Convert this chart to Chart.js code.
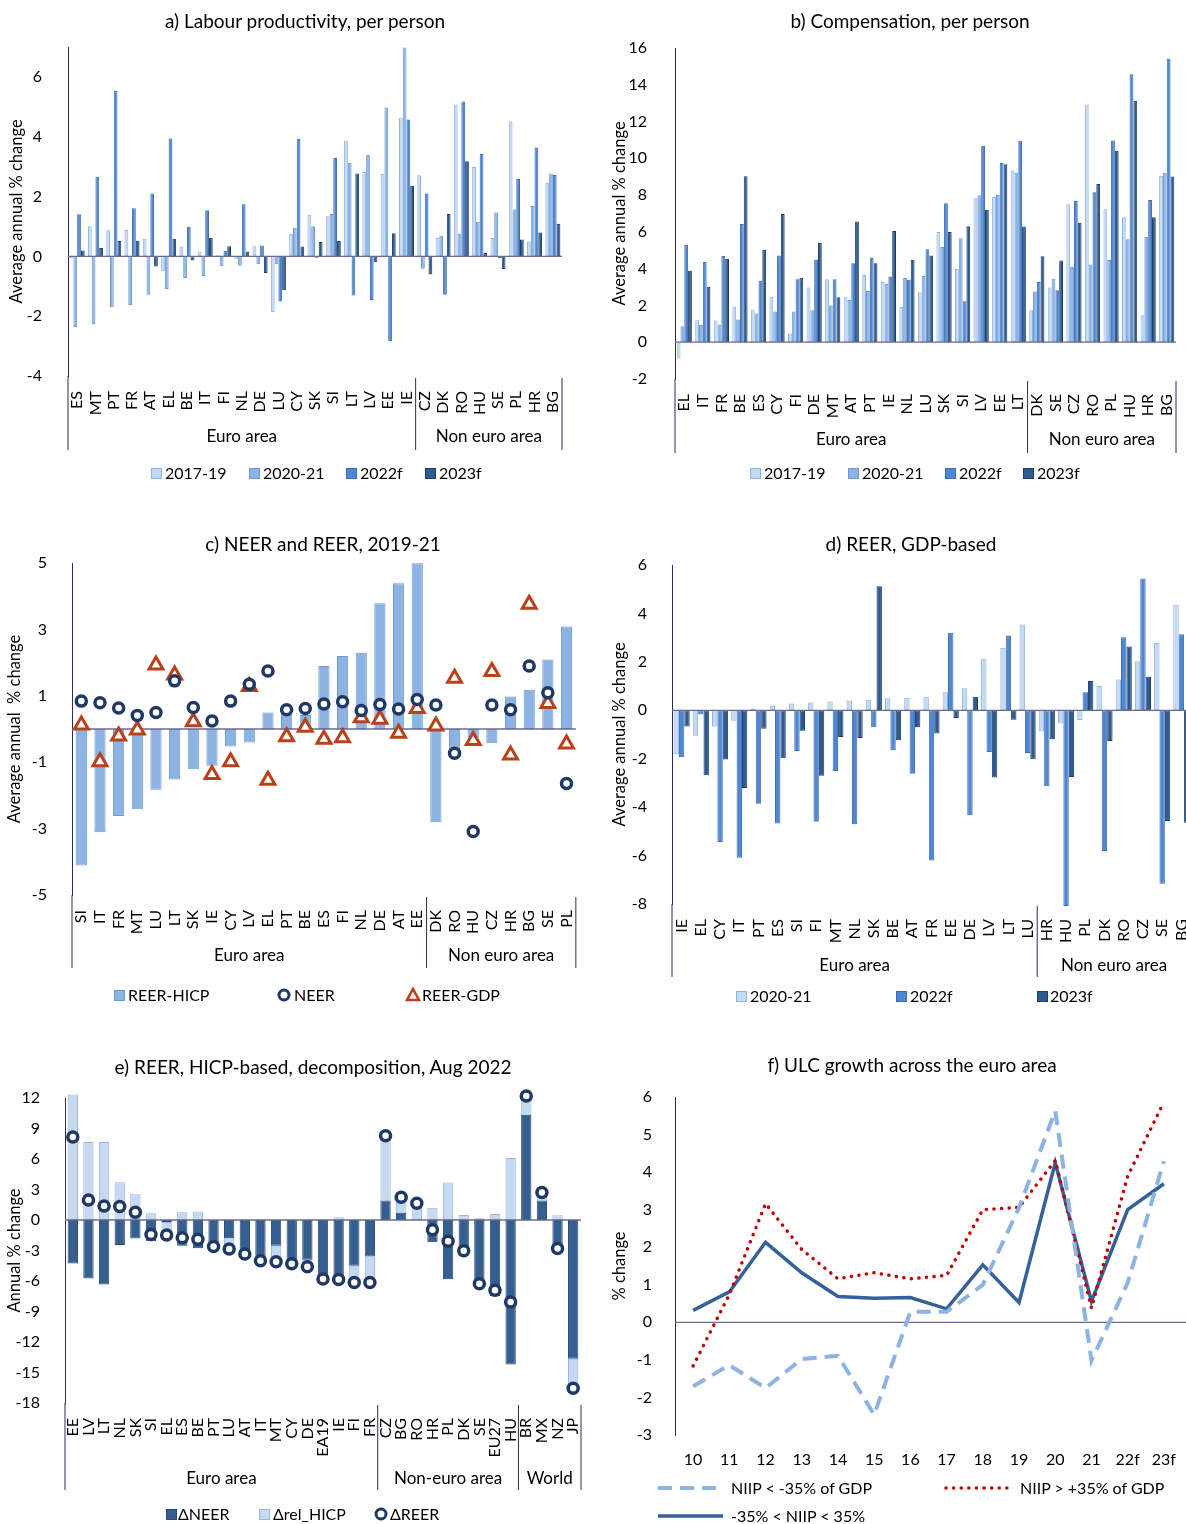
<!DOCTYPE html>
<html>
<head>
<meta charset="utf-8">
<script src="https://cdn.jsdelivr.net/npm/chart.js@4.4.0/dist/chart.umd.min.js"></script>
<style>
html, body { margin: 0; padding: 0; overflow: hidden; background: #fff; }
body { width: 1186px; height: 1524px; position: relative; font-family: Lato, "Open Sans", sans-serif; }
canvas { position: absolute; }
.t { position: absolute; transform: translateX(-50%); font-size: 19px; line-height: 23px; white-space: nowrap; color: #000; z-index: 2; }
.lg { position: absolute; font-size: 16px; white-space: nowrap; color: #000; line-height: 19px; }
.mk { position: absolute; }
</style>
</head>
<body>
<canvas id="ca" width="593" height="500" style="left:0;top:0"></canvas>
<canvas id="cb" width="615" height="500" style="left:593px;top:0"></canvas>
<canvas id="cc" width="593" height="500" style="left:0;top:520px"></canvas>
<canvas id="cd" width="625" height="500" style="left:593px;top:520px"></canvas>
<canvas id="ce" width="615" height="484" style="left:0;top:1040px"></canvas>
<canvas id="cf" width="593" height="484" style="left:593px;top:1040px"></canvas>

<div class="t" style="left:305px;top:9px">a) Labour productivity, per person</div>
<div class="t" style="left:910px;top:9px">b) Compensation, per person</div>
<div class="t" style="left:323px;top:532px">c) NEER and REER, 2019-21</div>
<div class="t" style="left:911px;top:532px">d) REER, GDP-based</div>
<div class="t" style="left:313px;top:1055px">e) REER, HICP-based, decomposition, Aug 2022</div>
<div class="t" style="left:912px;top:1053px">f) ULC growth across the euro area</div>
<div id="leg"></div>

<script>
// a) labour productivity
var prodCats = ['ES','MT','PT','FR','AT','EL','BE','IT','FI','NL','DE','LU','CY','SK','SI','LT','LV','EE','IE','CZ','DK','RO','HU','SE','PL','HR','BG'];
var prod1719 = [-0.07,1.01,0.87,0.88,0.59,-0.5,0.33,0.16,0.04,-0.08,0.34,-1.86,0.76,1.39,1.34,3.87,2.82,2.76,4.62,2.71,0.61,5.08,2.99,0.61,4.51,0.5,2.46];
var prod2021 = [-2.36,-2.26,-1.7,-1.63,-1.28,-1.09,-0.72,-0.66,-0.33,-0.31,-0.26,-0.26,0.96,1.01,1.42,3.13,3.4,4.98,6.98,-0.41,0.69,0.76,1.16,1.47,1.57,1.68,2.77];
var prod2022 = [1.41,2.66,5.54,1.61,2.1,3.94,0.99,1.54,0.19,1.74,0.36,-1.51,3.93,-0.05,3.29,-1.31,-1.46,-2.84,4.58,2.1,-1.28,5.18,3.42,-0.06,2.59,3.64,2.72];
var prod2023 = [0.2,0.28,0.51,0.52,-0.34,0.59,-0.14,0.62,0.34,0.16,-0.56,-1.13,0.33,0.48,0.51,2.77,-0.2,0.77,2.36,-0.61,1.42,3.18,0.11,-0.42,0.56,0.8,1.09];

// b) compensation
var compCats = ['EL','IT','FR','BE','ES','CY','FI','DE','MT','AT','PT','IE','NL','LU','SK','SI','LV','EE','LT','DK','SE','CZ','RO','PL','HU','HR','BG'];
var comp1719 = [-0.89,1.2,1.18,1.93,1.78,2.47,0.47,2.98,3.42,2.45,3.65,3.27,1.91,2.72,5.99,3.98,7.83,7.9,9.34,1.74,2.98,7.5,12.93,7.23,6.79,1.47,9.05];
var comp2021 = [0.87,0.93,0.96,1.24,1.56,1.67,1.67,1.74,2.0,2.29,2.78,3.16,3.49,3.6,5.18,5.65,7.99,8.01,9.23,2.76,3.45,4.09,4.23,4.47,5.6,5.72,9.21];
var comp2022 = [5.3,4.36,4.69,6.43,3.34,4.72,3.43,4.5,3.42,4.29,4.61,3.58,3.4,5.05,7.56,2.23,10.68,9.74,10.95,3.27,2.83,7.68,8.16,10.97,14.57,7.74,15.42];
var comp2023 = [3.89,3.02,4.54,9.03,5.03,6.97,3.51,5.41,2.45,6.56,4.29,6.05,4.49,4.72,5.99,6.3,7.21,9.68,6.29,4.67,4.45,6.5,8.61,10.41,13.13,6.79,9.01];

// c) NEER and REER 2019-21
var neerCats = ['SI','IT','FR','MT','LU','LT','SK','IE','CY','LV','EL','PT','BE','ES','FI','NL','DE','AT','EE','DK','RO','HU','CZ','HR','BG','SE','PL'];
var reerHicp = [-4.11,-3.11,-2.62,-2.42,-1.83,-1.52,-1.21,-1.11,-0.53,-0.41,0.5,0.47,0.42,1.9,2.2,2.3,3.79,4.39,4.99,-2.81,-0.62,-0.26,-0.43,0.98,1.18,2.09,3.09];
var neer = [0.84,0.79,0.63,0.41,0.5,1.45,0.65,0.24,0.84,1.35,1.75,0.58,0.62,0.75,0.82,0.56,0.74,0.6,0.89,0.72,-0.73,-3.09,0.72,0.58,1.9,1.09,-1.64];
var reerGdp = [0.12,-0.99,-0.21,-0.03,1.93,1.63,0.22,-1.37,-0.99,1.28,-1.54,-0.23,0.05,-0.31,-0.26,0.34,0.29,-0.13,0.62,0.09,1.53,-0.35,1.73,-0.78,3.76,0.77,-0.45];

// d) REER GDP-based
var gdpCats = ['IE','EL','CY','IT','PT','ES','SI','FI','MT','NL','SK','BE','AT','FR','EE','DE','LV','LT','LU','HR','HU','PL','DK','RO','CZ','SE','BG'];
var gdp2021 = [-1.83,-1.05,-0.67,-0.43,0.06,0.19,0.28,0.32,0.36,0.4,0.44,0.5,0.52,0.56,0.74,0.91,2.13,2.58,3.54,-0.88,-0.55,-0.4,1.0,1.27,2.02,2.78,4.37];
var gdp2022 = [-1.94,-0.17,-5.44,-6.09,-3.86,-4.68,-1.68,-4.6,-2.51,-4.71,-0.7,-1.65,-2.62,-6.2,3.2,-4.33,-1.72,3.09,-1.76,-3.14,-8.08,0.74,-5.81,3.02,5.44,-7.16,3.14];
var gdp2023 = [-0.67,-2.68,-2.03,-3.21,-0.76,-1.98,-0.84,-2.7,-1.1,-1.14,5.12,-1.24,-0.7,-0.96,-0.32,0.56,-2.78,-0.39,-2.02,-1.2,-2.75,1.21,-1.27,2.63,1.38,-4.57,-4.64];

// e) REER HICP-based decomposition
var decCats = ['EE','LV','LT','NL','SK','SI','EL','ES','BE','PT','LU','AT','IT','MT','CY','DE','EA19','IE','FI','FR','CZ','BG','RO','HR','PL','DK','SE','EU27','HU','BR','MX','NZ','JP'];
var dNeer = [-4.28,-5.76,-6.35,-2.47,-1.81,-2.1,-0.2,-2.53,-2.79,-2.5,-1.8,-3.2,-3.7,-2.53,-4.1,-3.9,-5.7,-6.1,-4.5,-3.58,1.91,0.72,0,-2.2,-5.82,-3.5,-6.45,-7.5,-14.21,10.36,1.91,-3.25,-13.65];
var dRelHicp = [12.34,7.66,7.66,3.72,2.53,0.66,-1.3,0.76,0.84,-0.1,-1.05,-0.15,-0.3,-1.6,-0.2,-0.7,-0.1,0.26,-1.7,-2.6,6.38,1.52,1.6,1.2,3.68,0.49,0.16,0.6,6.09,1.84,0.8,0.46,-2.9];
var dReer = [8.16,1.97,1.38,1.32,0.76,-1.42,-1.48,-1.74,-1.9,-2.6,-2.85,-3.35,-4.0,-4.1,-4.3,-4.6,-5.8,-5.86,-6.15,-6.15,8.29,2.24,1.64,-0.95,-2.1,-3.03,-6.28,-6.9,-8.06,12.2,2.7,-2.8,-16.55];

// f) ULC growth
var ulcYears = ['10','11','12','13','14','15','16','17','18','19','20','21','22f','23f'];
var ulcNeg = [-1.7,-1.14,-1.75,-0.98,-0.89,-2.46,0.28,0.28,1.0,3.05,5.63,-1.02,1.05,4.29];
var ulcPos = [-1.16,0.74,3.16,1.94,1.16,1.32,1.16,1.25,3.0,3.06,4.31,0.38,3.89,5.87];
var ulcMid = [0.32,0.81,2.13,1.32,0.69,0.64,0.66,0.36,1.53,0.53,4.25,0.56,3.0,3.69];

var FONT = 'Lato';
Chart.defaults.font.family = FONT;
Chart.defaults.font.size = 16;
Chart.defaults.color = '#000';

var C_LIGHT = ['#c5d9f1', '#8db3e2'];
var C_MIDL = ['#8db3e2', '#6b9bd6'];
var C_MID = ['#4f86d2', '#3a6db5'];
var C_DARK = ['#2f5a8f', '#1f3d66'];
var AXIS = '#2b2b5c';

function bars(label, data, c) {
  return { type: 'bar', label: label, data: data, backgroundColor: c[0], borderColor: c[1],
           borderWidth: 1, borderSkipped: false, order: 2, clip: false };
}

function drawZero(chart, o) {
  var ctx = chart.ctx, a = chart.chartArea, z = chart.scales.y.getPixelForValue(0);
  ctx.save();
  ctx.strokeStyle = '#6b6b8e';
  ctx.lineWidth = 1.3;
  ctx.beginPath();
  ctx.moveTo(a.left, z);
  ctx.lineTo(o.zeroEnd || a.right, z);
  ctx.stroke();
  ctx.restore();
}

var decor = {
  id: 'decor',
  beforeDatasetsDraw: function(chart, args, o) { if (o.zeroAfter < 0) drawZero(chart, o); },
  afterDatasetDraw: function(chart, args, o) { if (args.index === o.zeroAfter) drawZero(chart, o); },
  afterDraw: function(chart, args, o) {
    if (!o.groups) return;
    var ctx = chart.ctx, a = chart.chartArea, x = chart.scales.x;
    var half = (x.getPixelForValue(1) - x.getPixelForValue(0)) / 2;
    ctx.save();
    ctx.strokeStyle = AXIS;
    ctx.lineWidth = 1;
    ctx.font = '17px ' + FONT;
    ctx.fillStyle = '#000';
    ctx.textAlign = 'center';
    ctx.textBaseline = 'middle';
    ctx.beginPath();
    ctx.moveTo(a.left, a.bottom);
    ctx.lineTo(a.left, o.lineEnd);
    var i = 0;
    o.groups.forEach(function(g) {
      var x0 = x.getPixelForValue(i) - half;
      i += g[1];
      var x1 = x.getPixelForValue(i - 1) + half;
      ctx.moveTo(x1, a.bottom + 2);
      ctx.lineTo(x1, o.lineEnd);
      ctx.fillText(g[0], (x0 + x1) / 2, o.labelY);
    });
    ctx.stroke();
    ctx.restore();
  }
};

function build(id, labels, datasets, p) {
  return new Chart(document.getElementById(id), {
    data: { labels: labels, datasets: datasets },
    plugins: [decor],
    options: {
      responsive: false,
      animation: false,
      events: [],
      layout: { padding: p.pad },
      datasets: { bar: { categoryPercentage: p.cat, barPercentage: p.bar } },
      plugins: {
        legend: { display: false },
        tooltip: { enabled: false },
        decor: { groups: p.groups, labelY: p.labelY, lineEnd: p.lineEnd, zeroAfter: p.zeroAfter, zeroEnd: p.zeroEnd }
      },
      scales: {
        x: {
          type: 'category',
          stacked: !!p.stacked,
          offset: true,
          grid: { display: false },
          border: { display: false },
          ticks: { autoSkip: false, minRotation: p.rot, maxRotation: p.rot, padding: p.xPad, font: { size: 16 } },
          afterFit: function(s) { s.height = p.xH; }
        },
        y: {
          min: p.min, max: p.max,
          stacked: !!p.stacked,
          grid: { display: false },
          border: { display: true, color: AXIS, width: 1 },
          title: { display: true, text: p.yTitle, font: { size: 16.5 }, padding: { top: 3, bottom: 3 } },
          ticks: { stepSize: p.step, padding: p.yPad, font: { size: 16 } },
          afterBuildTicks: function(s) { s.ticks = s.ticks.filter(function(t) { return p.keep(t.value); }); },
          afterFit: function(s) { s.width = p.yW; }
        }
      }
    }
  });
}

var euroGroups = [['Euro area', 19], ['Non euro area', 8]];
var all = function() { return true; };

build('ca', prodCats, [
  bars('2017-19', prod1719, C_LIGHT),
  bars('2020-21', prod2021, C_MIDL),
  bars('2022f', prod2022, C_MID),
  bars('2023f', prod2023, C_DARK)
], { pad: { left: 4, right: 31, top: 47, bottom: 64 }, yW: 64, xH: 60, cat: 0.82, bar: 1,
     min: -4, max: 7, step: 2, keep: function(v) { return v % 2 === 0; }, yPad: 18, xPad: 7, rot: 90,
     yTitle: 'Average annual % change', groups: euroGroups, labelY: 437, lineEnd: 450, zeroAfter: 0 });

build('cb', compCats, [
  bars('2017-19', comp1719, C_LIGHT),
  bars('2020-21', comp2021, C_MIDL),
  bars('2022f', comp2022, C_MID),
  bars('2023f', comp2023, C_DARK)
], { pad: { left: 14, right: 32, top: 48, bottom: 61 }, yW: 68, xH: 60, cat: 0.82, bar: 1,
     min: -2, max: 16, step: 2, keep: all, yPad: 20, xPad: 7, rot: 90,
     yTitle: 'Average annual % change', groups: euroGroups, labelY: 440, lineEnd: 453, zeroAfter: 0 });

build('cc', neerCats, [
  bars('REER-HICP', reerHicp, C_MIDL),
  { type: 'line', label: 'NEER', data: neer, showLine: false, pointStyle: 'circle', pointRadius: 5,
    pointBorderWidth: 3.5, pointBorderColor: '#1f3864', pointBackgroundColor: '#fff', order: 0, clip: false },
  { type: 'line', label: 'REER-GDP', data: reerGdp, showLine: false, pointStyle: 'triangle', pointRadius: 8,
    pointBorderWidth: 3, pointBorderColor: '#b8411c', pointBackgroundColor: '#fff', order: 1, clip: false }
], { pad: { left: 2, right: 15, top: 43, bottom: 65 }, yW: 70, xH: 60, cat: 1, bar: 0.6,
     min: -5, max: 5, step: 2, keep: all, yPad: 17, xPad: 7, rot: 90,
     yTitle: 'Average annual  % change', groups: euroGroups, labelY: 436, lineEnd: 448, zeroAfter: 0 });

build('cd', gdpCats, [
  bars('2020-21', gdp2021, C_LIGHT),
  bars('2022f', gdp2022, C_MID),
  bars('2023f', gdp2023, C_DARK)
], { pad: { left: 14, right: 27, top: 45, bottom: 56 }, yW: 65, xH: 60, cat: 0.84, bar: 1,
     min: -8, max: 6, step: 2, keep: all, yPad: 17, xPad: 7, rot: 90,
     yTitle: 'Average annual % change', groups: euroGroups, labelY: 446, lineEnd: 457, zeroAfter: 0 });

var eBar1 = bars('\u0394NEER', dNeer, ['#365f91', '#2a4a73']);
var eBar2 = bars('\u0394rel_HICP', dRelHicp, ['#c6d9f1', '#95b8e3']);
eBar1.stack = 'd'; eBar2.stack = 'd';
build('ce', decCats, [
  eBar1, eBar2,
  { type: 'line', label: '\u0394REER', data: dReer, showLine: false, pointStyle: 'circle', pointRadius: 5,
    pointBorderWidth: 3.5, pointBorderColor: '#1f3864', pointBackgroundColor: '#fff', order: 0, clip: false }
], { pad: { left: 2, right: 34, top: 58, bottom: 61 }, yW: 63, xH: 60, cat: 1, bar: 0.66, stacked: true,
     min: -18, max: 12, step: 3, keep: all, yPad: 17, xPad: 7, rot: 90,
     yTitle: 'Annual % change', groups: [['Euro area', 20], ['Non-euro area', 9], ['World', 4]],
     labelY: 439, lineEnd: 450, zeroAfter: 0 });

build('cf', ulcYears, [
  { type: 'line', label: 'NIIP < -35% of GDP', data: ulcNeg, borderColor: '#8db3e2', borderWidth: 4,
    borderDash: [14, 8], pointRadius: 0, tension: 0, fill: false },
  { type: 'line', label: 'NIIP > +35% of GDP', data: ulcPos, borderColor: '#c00000', borderWidth: 3.5,
    borderDash: [0.1, 7.5], borderCapStyle: 'round', pointRadius: 0, tension: 0, fill: false },
  { type: 'line', label: '-35% < NIIP < 35%', data: ulcMid, borderColor: '#36609a', borderWidth: 3.5,
    pointRadius: 0, tension: 0, fill: false }
], { pad: { left: 14, right: 4, top: 57, bottom: 44 }, yW: 68, xH: 45, cat: 0.8, bar: 0.9,
     min: -3, max: 6, step: 1, keep: all, yPad: 15, xPad: 7, rot: 0,
     yTitle: '% change', zeroAfter: -1, zeroEnd: 593 });

// legends
var leg = document.getElementById('leg');
function mark(x, y, kind, c) {
  var s = '';
  if (kind === 'box') {
    s = '<svg class="mk" width="11" height="11" style="left:' + x + 'px;top:' + (y - 5) + 'px"><rect x="0.5" y="0.5" width="10" height="10" fill="' + c[0] + '" stroke="' + c[1] + '"/></svg>';
  } else if (kind === 'circle') {
    s = '<svg class="mk" width="14" height="14" style="left:' + (x - 7) + 'px;top:' + (y - 7) + 'px"><circle cx="7" cy="7" r="5" fill="#fff" stroke="#1f3864" stroke-width="3"/></svg>';
  } else if (kind === 'tri') {
    s = '<svg class="mk" width="16" height="15" style="left:' + (x - 8) + 'px;top:' + (y - 8) + 'px"><polygon points="8,2 14,13 2,13" fill="#fff" stroke="#b8411c" stroke-width="2.6"/></svg>';
  } else {
    s = '<svg class="mk" width="70" height="8" style="left:' + x + 'px;top:' + (y - 4) + 'px"><line x1="2" y1="4" x2="67" y2="4" stroke="' + c.color + '" stroke-width="' + c.w + '" stroke-dasharray="' + (c.dash || '') + '" stroke-linecap="' + (c.cap || 'butt') + '"/></svg>';
  }
  leg.insertAdjacentHTML('beforeend', s);
}
function text(x, y, t) {
  leg.insertAdjacentHTML('beforeend', '<div class="lg" style="left:' + x + 'px;top:' + (y - 10) + 'px">' + t + '</div>');
}
var yrLeg = [['2017-19', C_LIGHT], ['2020-21', C_MIDL], ['2022f', C_MID], ['2023f', C_DARK]];
[151, 249, 346, 425].forEach(function(x, i) { mark(x, 473, 'box', yrLeg[i][1]); text(x + 14, 473, yrLeg[i][0]); });
[750, 848, 945, 1023].forEach(function(x, i) { mark(x, 473, 'box', yrLeg[i][1]); text(x + 14, 473, yrLeg[i][0]); });

mark(114, 995, 'box', C_MIDL); text(128, 995, 'REER-HICP');
mark(284, 995, 'circle'); text(294, 995, 'NEER');
mark(413, 995, 'tri'); text(422, 995, 'REER-GDP');

mark(736, 996, 'box', C_LIGHT); text(750, 996, '2020-21');
mark(896, 996, 'box', C_MID); text(910, 996, '2022f');
mark(1037, 996, 'box', C_DARK); text(1050, 996, '2023f');

mark(166, 1514, 'box', ['#365f91', '#2a4a73']); text(178, 1514, '\u0394NEER');
mark(259, 1514, 'box', ['#c6d9f1', '#95b8e3']); text(273, 1514, '\u0394rel_HICP');
mark(381, 1514, 'circle'); text(390, 1514, '\u0394REER');

mark(656, 1488, 'line', { color: '#8db3e2', w: 4, dash: '14 8' }); text(731, 1488, 'NIIP &lt; -35% of GDP');
mark(944, 1488, 'line', { color: '#c00000', w: 3.5, dash: '0.1 7.5', cap: 'round' }); text(1020, 1488, 'NIIP &gt; +35% of GDP');
mark(656, 1516, 'line', { color: '#36609a', w: 3.5 }); text(731, 1516, '-35% &lt; NIIP &lt; 35%');
</script>
</body>
</html>
